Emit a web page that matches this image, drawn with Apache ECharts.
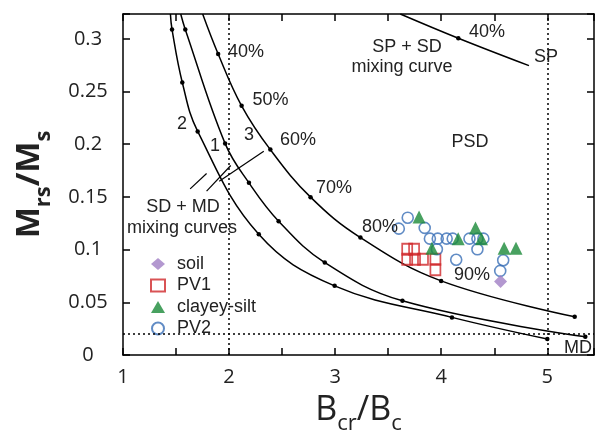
<!DOCTYPE html>
<html><head><meta charset="utf-8">
<script src="https://cdn.jsdelivr.net/npm/echarts@6/dist/echarts.min.js"></script>
<style>html,body{margin:0;padding:0;background:#fff}#c{width:597px;height:440px}</style>
</head><body><div id="c"></div>
<script>
// ---- data (Bcr/Bc, Mrs/Ms) ----
const soil = [[4.559, 0.0697]];
const pv1 = [[3.679,0.1003],[3.744,0.1003],[3.679,0.0908],[3.753,0.0908],[3.828,0.0908],[3.945,0.0908],[3.945,0.0809]];
const clayeySilt = [[3.791,0.131],[3.912,0.1012],[4.160,0.1102],[4.323,0.1206],[4.379,0.1102],[4.593,0.1012],[4.705,0.1012]];
const pv2 = [[3.600,0.1199],[3.684,0.1303],[3.844,0.1206],[3.893,0.1104],[3.967,0.1104],[4.051,0.1104],[4.108,0.1104],[4.266,0.1104],[4.341,0.1104],[4.397,0.1104],[3.959,0.1003],[4.141,0.0904],[4.341,0.1003],[4.584,0.0899],[4.556,0.0798]];

// SD + MD mixing curves (first point = where curve enters the plot)
const curve1 = [[1.544,0.3236],[1.587,0.309],[1.963,0.2006],[2.187,0.1634],[2.467,0.127],[2.902,0.0877],[3.634,0.0514],[5.358,0.0173]];
const curve2 = [[1.447,0.3236],[1.462,0.309],[1.559,0.2586],[1.704,0.2122],[2.280,0.1145],[2.995,0.0656],[4.101,0.0357],[5.0,0.0151]];
const curve3 = [[1.751,0.3236],[1.897,0.2857],[2.118,0.2365],[2.389,0.1949],[2.768,0.1498],[3.238,0.1114],[3.999,0.0703],[5.258,0.0362]];
// SP + SD mixing curve
const spCurve = [[3.614,0.3236],[4.161,0.3006],[4.827,0.2746]];
// leader lines for "SD + MD mixing curves"
const leaderLines = [
  [[1.633,0.1577],[1.788,0.1722]],
  [[1.788,0.1555],[2.016,0.1798]],
  [[1.907,0.1649],[2.327,0.1933]]
];
// domain boundaries
const boundaryX = [2, 5];
const boundaryY = [0.02];
const xRange = [1, 5.44];
const yRange = [0, 0.3236];
const xStep = 0.5, yStep = 0.05;
const legendNames = ['soil','PV1','clayey-silt','PV2'];

const chart = echarts.init(document.getElementById('c'), null, {renderer:'canvas'});
const TXT = '#222';
const F = 'Liberation Sans';
const tickFont = 'Open Sans';

function curveSeries(data, dotFn, extra) {
  return Object.assign({
    type:'line', data: data, smooth:0.4,
    symbol:'circle', symbolSize: (v, p) => dotFn(p.dataIndex, data.length) ? 4.5 : 0,
    itemStyle:{color:'#000'}, lineStyle:{color:'#000', width:1.5},
    silent:true, z:2, legendHoverLink:false
  }, extra || {});
}

const series = [
  curveSeries(curve1, i => i > 0),
  curveSeries(curve2, i => i > 0),
  curveSeries(curve3, i => i > 0, {
    markLine:{silent:true, symbol:'none', animation:false, label:{show:false},
      lineStyle:{color:'#000', type:[2,3], width:1.5},
      data: boundaryX.map(v => ({xAxis:v})).concat(boundaryY.map(v => ({yAxis:v})))}
  }),
  curveSeries(spCurve, (i, n) => i === 1),
];
leaderLines.forEach(l => series.push({type:'line', data:l, symbol:'none', silent:true,
  lineStyle:{color:'#000', width:1.2}, z:2}));

series.push(
  {name:'soil', type:'scatter', data:soil, symbol:'diamond', symbolSize:13,
   itemStyle:{color:'#a07ec4'}, z:5},
  {name:'PV1', type:'scatter', data:pv1, symbol:'rect', symbolSize:[10,11],
   itemStyle:{color:'rgba(255,255,255,0)', borderColor:'#d0282a', borderWidth:1.8}, z:4},
  {name:'clayey-silt', type:'scatter', data:clayeySilt, symbol:'triangle', symbolSize:13,
   itemStyle:{color:'#1a8a38'}, z:5},
  {name:'PV2', type:'scatter', data:pv2, symbol:'circle', symbolSize:11,
   itemStyle:{color:'rgba(255,255,255,0)', borderColor:'#3a6fb7', borderWidth:1.6}, z:4}
);

const fmtY = v => Math.abs(v / yStep - Math.round(v / yStep)) < 1e-6 ? String(+v.toFixed(2)) : '';
const fmtX = v => Math.abs(v - Math.round(v)) < 1e-6 ? String(Math.round(v)) : '';

const axisCommon = {
  axisLine:{show:true, onZero:false, lineStyle:{color:'#000', width:1.5}},
  axisTick:{show:true, inside:true, length:7, lineStyle:{color:'#000', width:1.5}},
  splitLine:{show:false}
};

function txt(text, x, y, size) {
  return {type:'text', x:x, y:y, silent:true, z:10,
    style:{text:text, font:(size||18)+'px "'+F+'"', fill:TXT, textAlign:'center', textVerticalAlign:'middle'}};
}

chart.setOption({
  animation:false,
  backgroundColor:'#fff',
  grid:{left:123, right:-2, top:14, bottom:84, containLabel:false},
  xAxis:[
    Object.assign({type:'value', position:'bottom', min:xRange[0], max:xRange[1], interval:xStep,
      axisLabel:{formatter:fmtX, fontSize:20, color:TXT, margin:12, fontFamily:tickFont},
      name:'{m|B}{s|cr}{m|/B}{s|c}', nameLocation:'middle', nameGap:38,
      nameTextStyle:{rich:{
        m:{fontSize:34, fontFamily:tickFont, color:TXT, lineHeight:42, verticalAlign:'top'},
        s:{fontSize:22, fontFamily:tickFont, color:TXT, lineHeight:42, verticalAlign:'bottom', padding:[0,0,0,0]}
      }}}, axisCommon),
    Object.assign({type:'value', position:'top', min:xRange[0], max:xRange[1], interval:xStep,
      axisLabel:{show:false}}, axisCommon)
  ],
  yAxis:[
    Object.assign({type:'value', position:'left', min:yRange[0], max:yRange[1], interval:yStep,
      axisLabel:{formatter:fmtY, fontSize:20, color:TXT, margin:35, align:'center', fontFamily:tickFont},
      name:'{m|M}{s|rs}{m|/M}{s|s}', nameLocation:'middle', nameGap:68,
      nameTextStyle:{rich:{
        m:{fontSize:33, fontWeight:'bold', fontFamily:tickFont, color:TXT, lineHeight:42, verticalAlign:'top'},
        s:{fontSize:22, fontWeight:'bold', fontFamily:tickFont, color:TXT, lineHeight:42, verticalAlign:'bottom'}
      }}}, axisCommon),
    Object.assign({type:'value', position:'right', min:yRange[0], max:yRange[1], interval:yStep,
      axisLabel:{show:false}}, axisCommon)
  ],
  legend:{orient:'vertical', left:145, top:250, itemWidth:14, itemHeight:12, itemGap:3.5,
    data:legendNames, selectedMode:false,
    textStyle:{fontSize:18, fontFamily:F, color:TXT, padding:[0,0,0,7]}},
  series:series,
  graphic:[
    txt('40%', 246, 52), txt('50%', 270.5, 100), txt('60%', 298, 140), txt('70%', 334, 188),
    txt('80%', 380, 227), txt('90%', 472, 275), txt('40%', 487, 32),
    txt('SP + SD', 407, 47), txt('mixing curve', 402, 67), txt('SP', 546, 57),
    txt('PSD', 470, 142), txt('MD', 578, 348),
    txt('SD + MD', 183, 207), txt('mixing curves', 182, 228),
    txt('1', 215, 146), txt('2', 182, 124), txt('3', 249, 135)
  ]
});
</script></body></html>
